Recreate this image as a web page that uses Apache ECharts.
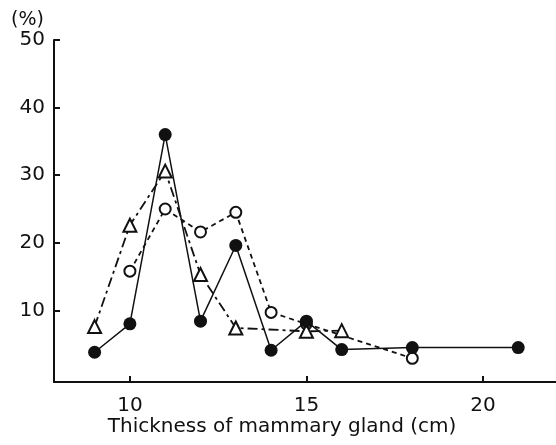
<!DOCTYPE html>
<html>
<head>
<meta charset="utf-8">
<script src="https://cdn.jsdelivr.net/npm/echarts@6/dist/echarts.min.js"></script>
<style>
  html, body { margin: 0; padding: 0; background: #fff; }
  #chart { width: 556px; height: 445px; }
</style>
</head>
<body>
<div id="chart"></div>
<script>
// Thickness of mammary gland (cm) vs. frequency (%) for three groups
const solidX = [9, 10, 11, 12, 13, 14, 15, 16, 18, 21];
const solidY = [3.8, 8.0, 36.0, 8.4, 19.6, 4.1, 8.4, 4.2, 4.5, 4.5];

const openX = [10, 11, 12, 13, 14, 15, 18];
const openY = [15.8, 25.0, 21.6, 24.5, 9.7, 8.0, 2.9];

const triX = [9, 10, 11, 12, 13, 15, 16];
const triY = [7.6, 22.6, 30.6, 15.3, 7.4, 6.9, 7.0];

const xTicks = [10, 15, 20];
const yTicks = [10, 20, 30, 40, 50];

const pairs = (xs, ys) => xs.map((x, i) => [x, ys[i]]);

const FONT = 'DejaVu Sans';
const INK = '#111';

const chart = echarts.init(document.getElementById('chart'), null, { renderer: 'canvas' });

chart.setOption({
  backgroundColor: '#fff',
  animation: false,
  grid: { left: 54, right: 0, top: 40, bottom: 63 },
  xAxis: {
    type: 'value',
    min: 7.85,
    max: 22.07,
    splitLine: { show: false },
    axisLine: { show: true, onZero: false, lineStyle: { color: INK, width: 2 } },
    axisTick: { show: true, inside: true, length: 6, customValues: xTicks, lineStyle: { color: INK, width: 2 } },
    axisLabel: { customValues: xTicks, color: INK, fontFamily: FONT, fontSize: 20, margin: 14 }
  },
  yAxis: {
    type: 'value',
    min: -0.6,
    max: 50,
    splitLine: { show: false },
    axisLine: { show: true, onZero: false, lineStyle: { color: INK, width: 2 } },
    axisTick: { show: true, inside: true, length: 6, customValues: yTicks, lineStyle: { color: INK, width: 2 } },
    axisLabel: { customValues: yTicks, color: INK, fontFamily: FONT, fontSize: 20, margin: 9 }
  },
  graphic: [
    {
      type: 'text', x: 11, y: 11,
      style: { text: '(%)', fill: INK, font: '19px "' + FONT + '"' }
    },
    {
      type: 'text', x: 282, y: 417,
      style: { text: 'Thickness of mammary gland (cm)', fill: INK, font: '20px "' + FONT + '"', align: 'center' }
    }
  ],
  series: [
    {
      name: 'open',
      type: 'line',
      data: pairs(openX, openY),
      symbol: 'circle',
      symbolSize: 11,
      z: 2,
      lineStyle: { color: INK, width: 1.8, type: [5, 4] },
      itemStyle: { color: '#fff', borderColor: INK, borderWidth: 2 }
    },
    {
      name: 'triangle',
      type: 'line',
      data: pairs(triX, triY),
      symbol: 'triangle',
      symbolSize: 13,
      z: 3,
      lineStyle: { color: INK, width: 1.8, type: [10, 4, 3, 4] },
      itemStyle: { color: '#fff', borderColor: INK, borderWidth: 2 }
    },
    {
      name: 'filled',
      type: 'line',
      data: pairs(solidX, solidY),
      symbol: 'circle',
      symbolSize: 13,
      z: 4,
      lineStyle: { color: INK, width: 1.5 },
      itemStyle: { color: INK, borderColor: INK, borderWidth: 0 }
    }
  ]
});
</script>
</body>
</html>
